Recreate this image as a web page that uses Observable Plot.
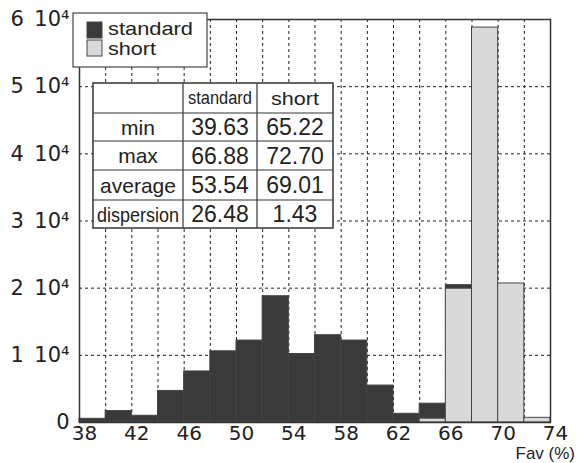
<!DOCTYPE html>
<html><head><meta charset="utf-8">
<script src="https://cdn.jsdelivr.net/npm/d3@7"></script>
<script src="https://cdn.jsdelivr.net/npm/@observablehq/plot@0.6"></script>
<style>
body{margin:0;background:#fff;}
#chart{width:578px;height:463px;}
svg{font-family:"Liberation Sans",sans-serif;}
</style></head><body><div id="chart"></div>
<script>
// Bin starts (bin width 2, Fav %)
const binStarts = [38,40,42,44,46,48,50,52,54,56,58,60,62,64,66,68,70,72];
const standardCounts = [550,1700,1000,4700,7600,10600,12200,18800,10200,13000,12200,5500,1300,2200,500,0,0,0];
const shortCounts = [0,0,0,0,0,0,0,0,0,0,0,0,0,600,19950,58800,20700,700];
const seriesNames = ["standard","short"];
const xTicks = [38,42,46,50,54,58,62,66,70,74];
const yTicks = [0,10000,20000,30000,40000,50000,60000];
const xLabel = "Fav (%)";
// Stats table
const tableRowLabels = ["min","max","average","dispersion"];
const standardStats = ["39.63","66.88","53.54","26.48"];
const shortStats = ["65.22","72.70","69.01","1.43"];

const rows = [];
binStarts.forEach((b,i)=>{
  if (shortCounts[i]>0) rows.push({x1:b,x2:b+2,count:shortCounts[i],series:"short"});
  if (standardCounts[i]>0) rows.push({x1:b,x2:b+2,count:standardCounts[i],series:"standard"});
});
const gridXs = binStarts.filter(b=>b>38);
const gridYs = yTicks.filter(v=>v>0 && v<60000);

const fill = {standard:"#3a3a3a", short:"#d9d9d9"};
const axisFont = "DejaVu Sans";

const chart = Plot.plot({
  width:578, height:463,
  marginLeft:79, marginRight:28, marginTop:19, marginBottom:41,
  x:{domain:[38,74]},
  y:{domain:[0,60000]},
  color:{domain:seriesNames, range:[fill.standard, fill.short]},
  marks:[
    Plot.gridX(gridXs,{stroke:"#222",strokeOpacity:1,strokeDasharray:"3,3",strokeWidth:1}),
    Plot.gridY(gridYs,{stroke:"#222",strokeOpacity:1,strokeDasharray:"3,3",strokeWidth:1}),
    Plot.rectY(rows,{x1:"x1",x2:"x2",y:"count",fill:"series",stroke:"#444",strokeWidth:1,order:["short","standard"]}),
    Plot.frame({stroke:"#333",strokeWidth:1.5}),
    Plot.axisX(xTicks,{tickSize:0,tickPadding:3,fontSize:20,fontFamily:axisFont,dx:5,label:null,fill:"#222"}),
    Plot.axisY(yTicks,{tickSize:0,tickPadding:10,fontSize:21,fontFamily:axisFont,label:null,fill:"#222",
      tickFormat:d=> d===0 ? "0" : `${d/1e4}\u200210⁴`})
  ]
});
document.getElementById("chart").appendChild(chart);

const svg = d3.select(chart);
// x-axis title
svg.append("text").attr("x",575).attr("y",459.3).attr("text-anchor","end")
  .attr("font-size",17).attr("fill","#222").text(xLabel);

// Legend
const lg = svg.append("g").attr("text-anchor","start");
lg.append("rect").attr("x",73).attr("y",13).attr("width",134).attr("height",54)
  .attr("fill","#fff").attr("stroke","#444").attr("stroke-width",1.2);
const legendLen = {standard:85, short:48};
seriesNames.forEach((s,i)=>{
  lg.append("rect").attr("x",87).attr("y",22+i*18).attr("width",15).attr("height",16)
    .attr("fill",fill[s]).attr("stroke","#444");
  lg.append("text").attr("x",108).attr("y",35+i*20).attr("font-size",19).attr("fill","#222")
    .attr("textLength",legendLen[s]).attr("lengthAdjust","spacingAndGlyphs").text(s);
});

// Table
const colX = [93,183,257,333];
const rowY = [83,113,141,170,200,228];
const tg = svg.append("g");
tg.append("rect").attr("x",colX[0]).attr("y",rowY[0]).attr("width",colX[3]-colX[0]).attr("height",rowY[5]-rowY[0])
  .attr("fill","#fff").attr("stroke","#333").attr("stroke-width",1.5);
colX.slice(1,3).forEach(x=>tg.append("line").attr("x1",x).attr("x2",x).attr("y1",rowY[0]).attr("y2",rowY[5]).attr("stroke","#333").attr("stroke-width",1.2));
rowY.slice(1,5).forEach(y=>tg.append("line").attr("x1",colX[0]).attr("x2",colX[3]).attr("y1",y).attr("y2",y).attr("stroke","#333").attr("stroke-width",1.2));
const cx = i => (colX[i]+colX[i+1])/2;
const cy = j => (rowY[j]+rowY[j+1])/2;
function cell(i,j,t,size,len){
  const e = tg.append("text").attr("x",cx(i)).attr("y",cy(j)+size*0.36).attr("text-anchor","middle")
    .attr("font-size",size).attr("fill","#222").text(t);
  if (len) e.attr("textLength",len).attr("lengthAdjust","spacingAndGlyphs");
}
cell(1,0,seriesNames[0],18,64);
cell(2,0,seriesNames[1],19,48);
tableRowLabels.forEach((r,j)=>{
  cell(0,j+1,r, 21, r==="dispersion"?82:null);
  cell(1,j+1,standardStats[j],23);
  cell(2,j+1,shortStats[j],23);
});
</script></body></html>
